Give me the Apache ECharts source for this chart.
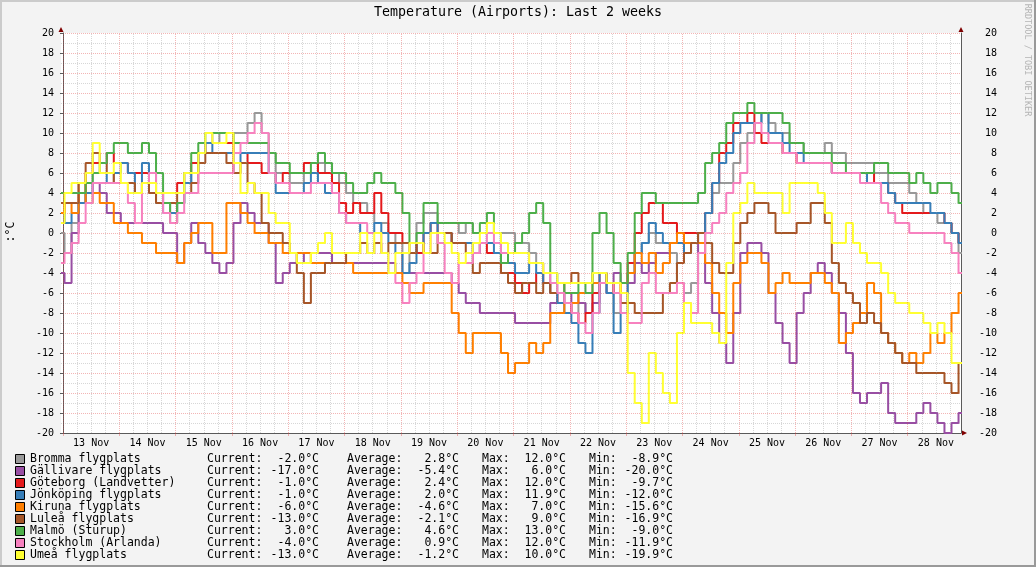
<!DOCTYPE html>
<html><head><meta charset="utf-8">
<script src="https://cdn.jsdelivr.net/npm/echarts@6/dist/echarts.min.js"></script>
<style>html,body{margin:0;padding:0;background:#F3F3F3}#c{width:1036px;height:567px}</style>
</head><body><div id="c"></div>
<script>
// ---- data (hours since 13 Nov 00:00, one sample every 3 h) ----
const startHour = -0.85;
const stepHours = 3;
const dayLabels = ['13 Nov','14 Nov','15 Nov','16 Nov','17 Nov','18 Nov','19 Nov','20 Nov','21 Nov','22 Nov','23 Nov','24 Nov','25 Nov','26 Nov','27 Nov','28 Nov'];
const stationNames = ['Bromma flygplats','Gällivare flygplats','Göteborg (Landvetter)','Jönköping flygplats','Kiruna flygplats','Luleå flygplats','Malmö (Sturup)','Stockholm (Arlanda)','Umeå flygplats'];
const stationColors = ['#999999','#984EA3','#E41A1C','#377EB8','#FF7F00','#A65628','#4DAF4A','#F781BF','#FFFF33'];

const bromma = [0,-2,1,3,5,6,6,6,5,5, 5,4,5,4,4,3,2,3,5,6, 8,9,10,9,9,10,10,11,12,10, 8,6,6,5,5,6,6,7,6,6,
  5,4,3,3,2,1,1,0,-1,-4, -2,1,2,2,1,1,1,0,1,0, 0,0,0,0,0,-1,-1,-2,-3,-4, -5,-6,-7,-8,-7,-8,-6,-5,-6,-8,
  -7,-4,-2,-1,0,-1,-1,-2,-5,-6, -5,-2,2,4,5,5,7,9,10,11, 12,11,10,10,9,9,8,8,8,9, 8,8,7,7,7,7,6,6,5,5, 5,4,3,2,2,1,1,0,-2];
const gallivare = [-4,-5,0,3,4,5,4,2,2,1, 1,1,1,1,1,0,0,-3,-1,1, -1,-2,-3,-4,-3,1,3,2,1,1, -1,-5,-4,-3,-2,-3,-2,-2,-2,-3,
  -3,-3,-3,-3,-3,-3,-3,-3,-4,-4, -4,-4,-4,-4,-4,-4,-5,-6,-7,-7, -8,-8,-8,-8,-8,-9,-9,-9,-9,-9, -7,-6,-7,-6,-7,-8,-7,-5,-6,-4,
  -5,-5,-3,-4,-3,-2,-2,-1,-1,-1, -1,-2,-5,-8,-11,-13,-8,-2,-1,-1, -2,-6,-9,-11,-13,-8,-6,-4,-3,-4, -6,-8,-12,-16,-17,-16,-16,-15,-18,-19, -19,-19,-18,-17,-18,-19,-20,-19,-18];
const goteborg = [2,3,3,4,6,7,7,8,7,7, 6,6,6,5,4,4,4,5,6,7, 8,9,9,9,9,8,8,7,7,6, 6,5,6,6,6,7,7,6,6,5,
  3,2,3,2,2,4,2,0,0,-1, -1,-2,0,1,0,0,-1,-1,-1,-2, -1,-2,-2,-4,-4,-5,-6,-5,-4,-5, -6,-7,-7,-8,-9,-8,-6,-4,-5,-6,
  -5,-3,0,2,3,3,1,1,0,0, 0,0,2,5,8,9,11,11,12,10, 9,9,9,8,8,7,7,7,7,7, 6,6,6,6,6,6,5,5,4,3, 2,2,2,2,2,2,1,0,-1];
const jonkoping = [2,1,2,3,4,5,5,6,6,7, 6,4,7,6,3,2,2,3,5,6, 8,9,8,8,8,7,8,8,8,8, 6,4,4,4,4,5,6,5,4,4,
  2,1,1,0,0,1,0,-1,-2,-4, -3,-1,0,1,0,0,-1,-1,-1,-2, -1,-1,-2,-3,-3,-4,-4,-3,-4,-5, -6,-7,-8,-9,-11,-12,-8,-4,-6,-10,
  -8,-4,-2,-1,1,0,-1,-1,-1,-2, -1,0,2,5,7,8,10,11,11,11, 12,10,10,9,8,8,7,7,7,7, 6,6,6,6,6,5,5,5,4,3, 3,3,3,3,2,2,1,0,-1];
const kiruna = [2,3,2,5,3,4,3,3,1,1, 0,0,-1,-1,-2,-2,-2,-3,-1,0, 1,1,-2,-2,3,3,2,1,0,0, -1,-1,-2,-2,-2,-2,-3,-3,-3,-3,
  -3,-3,-4,-4,-4,-4,-4,-4,-4,-5, -6,-6,-5,-5,-5,-5,-8,-10,-12,-10, -10,-10,-10,-12,-14,-13,-13,-11,-12,-11, -8,-8,-7,-7,-6,-6,-5,-5,-5,-6,
  -5,-4,-2,-3,-2,-4,-3,-1,0,-1, -1,-1,-3,-6,-8,-10,-5,-3,-2,-2, -3,-6,-5,-4,-5,-5,-5,-4,-4,-5, -6,-11,-10,-9,-8,-5,-6,-10,-11,-12, -13,-12,-13,-12,-10,-11,-10,-8,-6];
const lulea = [3,3,3,5,7,8,7,6,5,5, 5,4,5,4,3,3,3,4,4,5, 7,8,8,8,7,6,7,5,4,1, 0,0,-1,-2,-4,-7,-4,-4,-3,-3,
  -3,-2,-2,-1,-2,-1,-2,-1,-1,-1, -2,-1,-2,-2,0,0,-1,-1,-2,-4, -3,-3,-3,-4,-5,-6,-5,-5,-6,-5, -6,-6,-5,-4,-5,-5,-4,-4,-5,-6,
  -7,-7,-8,-8,-8,-8,-6,-5,-3,-2, -1,0,-1,-3,-4,-4,-1,1,2,3, 3,2,0,0,0,1,1,3,3,1, -3,-5,-6,-7,-9,-8,-9,-10,-11,-12, -13,-13,-14,-14,-14,-14,-15,-16,-13];
const malmo = [4,4,4,4,5,6,7,8,9,9, 8,8,9,8,6,3,1,3,6,8, 9,10,10,10,10,9,9,9,9,9, 8,7,7,6,6,6,7,8,7,6,
  6,5,4,4,5,6,5,5,4,2, -1,0,3,3,1,1,1,1,1,0, 1,2,0,-3,-2,-1,0,2,3,1, -4,-5,-6,-6,-5,-6,0,2,0,-3,
  -5,-2,2,4,4,3,3,3,3,3, 3,4,7,8,9,11,12,12,13,12, 12,12,12,11,9,9,8,8,8,8, 7,7,6,6,6,6,7,7,6,6, 6,5,6,5,4,5,5,4,3];
const stockholm = [-3,-2,-1,1,3,5,5,5,5,5, 3,1,5,6,4,2,1,2,4,4, 6,6,6,6,6,8,9,10,11,10, 6,5,5,4,4,4,5,5,5,4,
  2,1,1,1,0,0,-2,-4,-5,-7, -5,-4,-2,0,-1,-4,-5,-3,-3,-2, -1,0,-1,-2,-2,-2,-2,-3,-3,-4, -5,-6,-7,-8,-9,-10,-8,-5,-5,-6,
  -8,-9,-9,-5,-4,-6,-6,-6,-5,-7, -8,-2,0,1,2,4,5,6,9,11, 10,9,9,8,8,7,7,7,7,7, 6,6,6,6,5,5,5,3,2,1, 1,0,0,0,0,0,-1,-2,-4];
const umea = [1,4,5,5,6,9,6,6,7,5, 4,4,5,5,4,4,4,4,6,6, 8,10,9,9,10,7,4,5,4,4, 2,1,1,-2,-3,-3,-2,-1,0,-2,
  -2,-2,-2,0,-2,0,-2,-4,-2,-2, -1,-1,-2,0,0,-1,-2,-3,-2,-1, 0,1,0,-1,-2,-2,-2,-3,-3,-4, -4,-5,-5,-5,-5,-5,-4,-4,-5,-5,
  -6,-14,-17,-19,-12,-14,-16,-17,-10,-7, -9,-9,-9,-10,-11,-3,2,3,5,4, 4,4,4,2,5,5,5,5,4,2, -1,-1,1,-1,-2,-3,-3,-4,-6,-7, -7,-8,-8,-9,-10,-9,-10,-13,-13];

const currentVals = [-2.0,-17.0,-1.0,-1.0,-6.0,-13.0,3.0,-4.0,-13.0];
const averageVals = [2.8,-5.4,2.4,2.0,-4.6,-2.1,4.6,0.9,-1.2];
const maxVals = [12.0,6.0,12.0,11.9,7.0,9.0,13.0,12.0,10.0];
const minVals = [-8.9,-20.0,-9.7,-12.0,-15.6,-16.9,-9.0,-11.9,-19.9];

const seriesValues = [bromma,gallivare,goteborg,jonkoping,kiruna,lulea,malmo,stockholm,umea];

// ---- chart ----
const MONO = '"DejaVu Sans Mono", monospace';
const MAJOR = 'rgba(225,70,70,0.40)';
const MINOR = 'rgba(150,150,150,0.38)';
const AXIS = '#5a5a5a';
const ARROW = '#7F0000';

const gridHours = [];
for (let h = 0; h <= 378; h += 6) gridHours.push(h);
const noonHours = dayLabels.map((_, i) => 12 + 24 * i);
const midnightHours = gridHours.filter(h => h % 24 === 0);

const fmt = v => (v.toFixed(1) + '°C');

const series = [{
  type: 'line', data: [], silent: true, z: 1,
  markLine: {
    silent: true, symbol: ['none', 'none'], label: {show: false}, animation: false,
    data: gridHours.map(h => ({xAxis: h, lineStyle: {color: h % 24 === 0 ? MAJOR : MINOR, type: [1, 1], width: 1}}))
  }
}];
seriesValues.forEach((vals, k) => {
  series.push({
    name: stationNames[k], type: 'line', step: 'middle', showSymbol: false, silent: true,
    lineStyle: {color: stationColors[k], width: 2}, itemStyle: {color: stationColors[k]},
    data: vals.map((v, i) => [startHour + i * stepHours, v]), z: 3
  });
});

const legendGraphics = [];
stationNames.forEach((name, k) => {
  const y = 459 + 12 * k;
  const font = '11.5px ' + MONO;
  legendGraphics.push({type: 'rect', shape: {x: 15.5, y: y - 4.5, width: 9, height: 9}, style: {fill: stationColors[k], stroke: '#000', lineWidth: 1}});
  const cols = [
    [name, 30, 'left'], ['Current:', 207, 'left'], [fmt(currentVals[k]), 319, 'right'],
    ['Average:', 347, 'left'], [fmt(averageVals[k]), 459, 'right'],
    ['Max:', 482, 'left'], [fmt(maxVals[k]), 566, 'right'],
    ['Min:', 589, 'left'], [fmt(minVals[k]), 673, 'right']
  ];
  cols.forEach(c => legendGraphics.push({type: 'text', style: {text: c[0], x: c[1], y: y, font: font, fill: '#000', align: c[2], verticalAlign: 'middle', textAlign: c[2], textVerticalAlign: 'middle'}}));
});

const option = {
  animation: false,
  backgroundColor: '#F3F3F3',
  grid: {left: 61, right: 75, top: 33, bottom: 134, show: true, backgroundColor: '#FFFFFF', borderWidth: 0},
  xAxis: {
    type: 'value', min: -0.85, max: 382.7,
    axisLine: {show: true, onZero: false, lineStyle: {color: AXIS, width: 1}},
    axisTick: {show: true, customValues: midnightHours, length: 3, lineStyle: {color: MAJOR}},
    axisLabel: {customValues: noonHours, formatter: v => dayLabels[Math.round((v - 12) / 24)], margin: 5, color: '#000', fontFamily: MONO, fontSize: 10},
    splitLine: {show: false}
  },
  yAxis: [{
    type: 'value', min: -20, max: 20, interval: 2, position: 'left',
    axisLine: {show: true, lineStyle: {color: AXIS}},
    axisTick: {show: true, length: 3, lineStyle: {color: AXIS}},
    axisLabel: {margin: 7, color: '#000', fontFamily: MONO, fontSize: 10, formatter: v => String(v)},
    splitLine: {show: true, lineStyle: {color: MAJOR, type: [1, 1]}},
    minorTick: {show: false, splitNumber: 2},
    minorSplitLine: {show: true, lineStyle: {color: MINOR, type: [1, 1]}}
  }, {
    type: 'value', min: -20, max: 20, interval: 2, position: 'right',
    axisLine: {show: true, lineStyle: {color: AXIS}},
    axisTick: {show: false},
    axisLabel: {margin: 36, align: 'right', color: '#000', fontFamily: MONO, fontSize: 10, formatter: v => String(v)},
    splitLine: {show: false}
  }],
  series: series,
  graphic: [
    {type: 'rect', shape: {x: 0, y: 0, width: 1036, height: 2}, style: {fill: '#CBCBCB'}},
    {type: 'rect', shape: {x: 0, y: 0, width: 2, height: 567}, style: {fill: '#CBCBCB'}},
    {type: 'rect', shape: {x: 0, y: 565, width: 1036, height: 2}, style: {fill: '#999999'}},
    {type: 'rect', shape: {x: 1034, y: 0, width: 2, height: 567}, style: {fill: '#999999'}},
    {type: 'text', style: {text: 'Temperature (Airports): Last 2 weeks', x: 518, y: 13, font: '13.3px ' + MONO, fill: '#000', align: 'center', verticalAlign: 'middle', textAlign: 'center', textVerticalAlign: 'middle'}},
    {type: 'text', x: 11, y: 232, rotation: Math.PI / 2, style: {text: ':°C', x: 0, y: 0, font: '11.5px ' + MONO, fill: '#000', align: 'center', verticalAlign: 'middle', textAlign: 'center', textVerticalAlign: 'middle'}},
    {type: 'text', x: 1027, y: 60, rotation: -Math.PI / 2, style: {text: 'RRDTOOL / TOBI OETIKER', x: 0, y: 0, font: '8.5px ' + MONO, fill: '#B4B4B4', align: 'center', verticalAlign: 'middle', textAlign: 'center', textVerticalAlign: 'middle'}},
    {type: 'polygon', shape: {points: [[58.5, 32], [63.5, 32], [61, 27]]}, style: {fill: ARROW}},
    {type: 'polygon', shape: {points: [[958.5, 32], [963.5, 32], [961, 27]]}, style: {fill: ARROW}},
    {type: 'polygon', shape: {points: [[962, 430.5], [962, 435.5], [967, 433]]}, style: {fill: ARROW}}
  ].concat(legendGraphics)
};

const chart = echarts.init(document.getElementById('c'), null, {renderer: 'canvas'});
chart.setOption(option);
</script>
</body></html>
